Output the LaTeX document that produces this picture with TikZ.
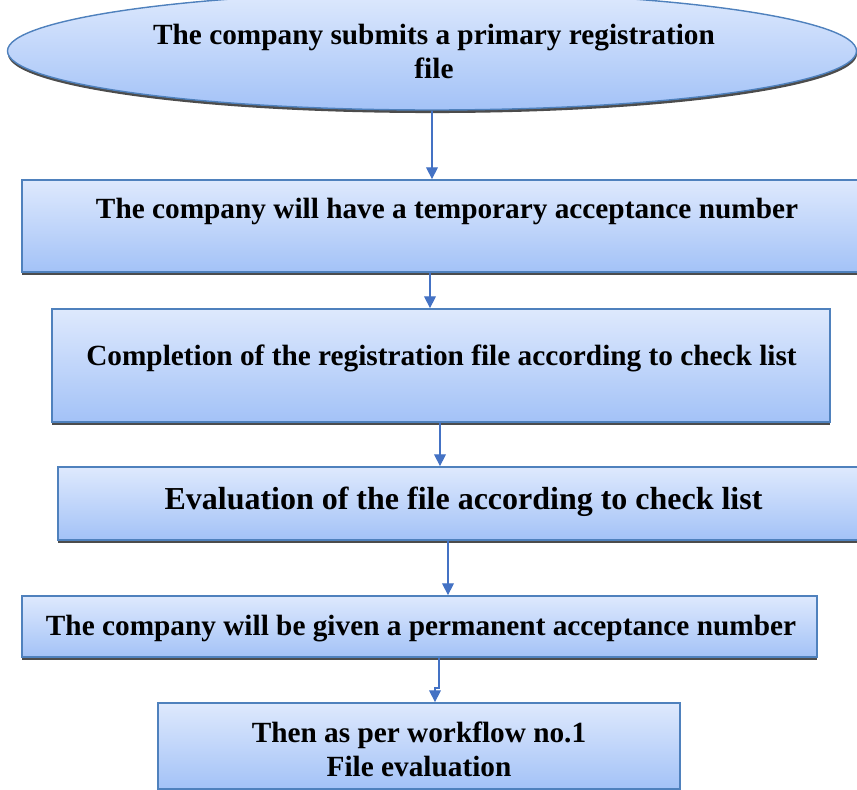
\documentclass[tikz,border=0pt]{standalone}
\usepackage{fontspec}
\setmainfont{Liberation Serif}
\usetikzlibrary{shapes.geometric, arrows.meta, shadows}
\definecolor{boxline}{RGB}{79,129,189}
\definecolor{boxtop}{RGB}{222,233,253}
\definecolor{boxbottom}{RGB}{163,194,247}
\definecolor{arrowblue}{RGB}{68,114,196}

\begin{document}
\begin{tikzpicture}[x=0.03cm, y=-0.03cm,
  stepbox/.style={draw=boxline, line width=1.5pt, top color=boxtop, bottom color=boxbottom, inner sep=0pt,
    drop shadow={shadow xshift=0.4pt, shadow yshift=-2.6pt, fill=black!70, opacity=1}},
  startell/.style={stepbox, ellipse, line width=1.2pt},
  steptext/.style={font=\fontsize{25}{29}\selectfont\bfseries, align=center, inner sep=0pt},
  flow/.style={draw=arrowblue, line width=1pt, -{Triangle[length=10pt, width=10pt]}}
]
  \clip (0,0) rectangle (857,790);

  \node[startell, minimum width=25.47cm, minimum height=3.54cm] (start) at (432,51) {};
  \node[stepbox, minimum width=25.32cm, minimum height=2.76cm] (temp) at (444,226) {};
  \node[stepbox, minimum width=23.34cm, minimum height=3.39cm] (complete) at (441,365.5) {};
  \node[stepbox, minimum width=24.24cm, minimum height=2.19cm] (evaluate) at (462,503.5) {};
  \node[stepbox, minimum width=23.85cm, minimum height=1.83cm] (perm) at (419.5,626.5) {};
  \node[stepbox, minimum width=15.66cm, minimum height=2.58cm] (workflow) at (419,746) {};

  \node[steptext] (starttext) at (434,51) {The company submits a primary registration\\file};
  \node[steptext] (temptext) at (447,212) {The company will have a temporary acceptance number};
  \node[steptext] (completetext) at (441.5,358) {Completion of the registration file according to check list};
  \node[steptext, font=\fontsize{27.3}{31}\selectfont\bfseries] (evaluatetext) at (463.5,501.5) {Evaluation of the file according to check list};
  \node[steptext] (permtext) at (421,629) {The company will be given a permanent acceptance number};
  \node[steptext] (workflowtext) at (419,749.5) {Then as per workflow no.1\\File evaluation};

  \coordinate (a2) at (430,0);
  \coordinate (a3) at (440,0);
  \coordinate (a4) at (448,0);
  \coordinate (a5) at (439,0);
  \coordinate (jog) at (435,688);

  \draw[flow] (start.south) -- (start.south |- temp.north);
  \draw[flow] (a2 |- temp.south) -- (a2 |- complete.north);
  \draw[flow] (a3 |- complete.south) -- (a3 |- evaluate.north);
  \draw[flow] (a4 |- evaluate.south) -- (a4 |- perm.north);
  \draw[flow] (a5 |- perm.south) -- (a5 |- jog) -- (jog) -- (jog |- workflow.north);
\end{tikzpicture}
\end{document}
